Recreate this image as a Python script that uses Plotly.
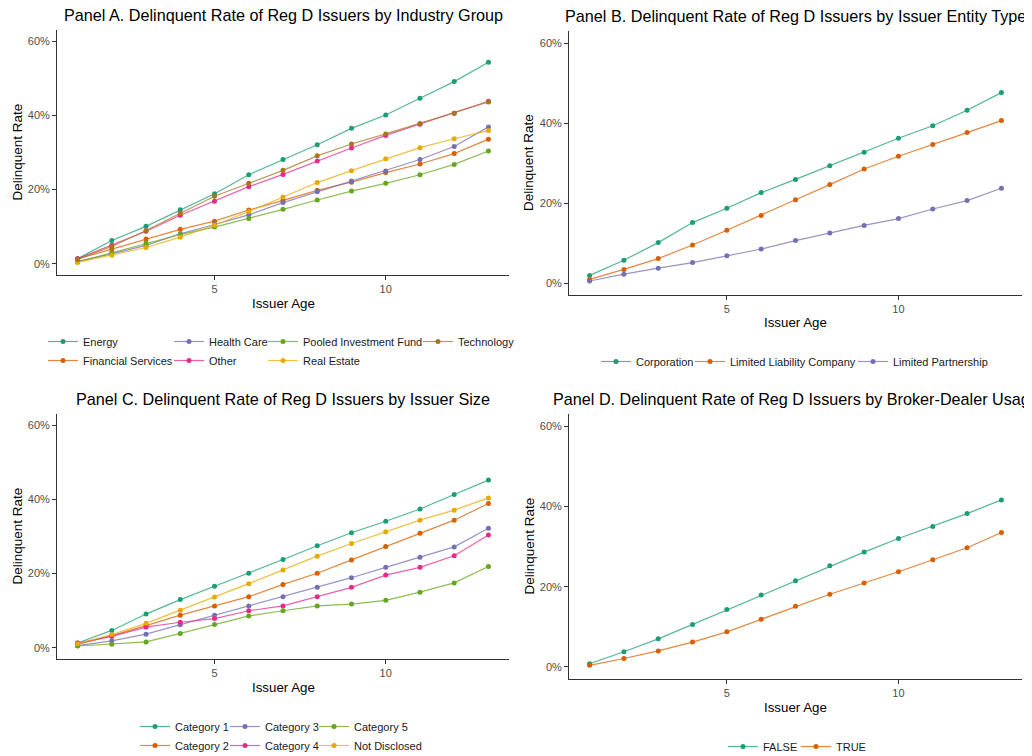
import plotly.graph_objects as go

# The page body has an 8px margin, so the figure is laid out in page pixels minus 8.
OFF = 8
W, H = 1024, 762
ages = list(range(1, 14))

# Panel A: industry group
industry_names = ["Energy", "Financial Services", "Health Care", "Other",
                  "Pooled Investment Fund", "Real Estate", "Technology"]
energy = [1.4, 6.3, 10.1, 14.6, 18.9, 24.0, 28.1, 32.1, 36.5, 40.1, 44.6, 49.1, 54.3]
financial = [1.3, 4.0, 6.7, 9.3, 11.5, 14.5, 17.1, 19.8, 22.0, 24.6, 26.9, 29.7, 33.6]
health = [0.7, 2.7, 5.0, 8.1, 10.6, 13.2, 16.5, 19.4, 22.3, 25.0, 28.1, 31.6, 36.9]
other = [1.4, 5.0, 8.8, 13.1, 16.9, 20.8, 24.1, 27.7, 31.2, 34.6, 37.6, 40.6, 43.8]
pooled = [0.5, 3.0, 5.6, 7.9, 9.9, 12.2, 14.7, 17.2, 19.6, 21.7, 24.0, 26.8, 30.4]
realestate = [0.4, 2.3, 4.4, 7.2, 10.4, 14.1, 18.0, 21.9, 25.1, 28.3, 31.3, 33.7, 35.9]
technology = [1.2, 4.7, 9.0, 13.7, 18.2, 21.7, 25.2, 29.1, 32.3, 35.0, 37.8, 40.6, 43.6]
industry_values = [energy, financial, health, other, pooled, realestate, technology]

# Panel B: entity type
entity_names = ["Corporation", "Limited Liability Company", "Limited Partnership"]
corporation = [1.9, 5.7, 10.1, 15.1, 18.7, 22.6, 25.9, 29.3, 32.7, 36.2, 39.3, 43.2, 47.6]
llc = [0.9, 3.4, 6.1, 9.5, 13.2, 16.9, 20.8, 24.6, 28.5, 31.7, 34.6, 37.6, 40.6]
lp = [0.5, 2.2, 3.7, 5.1, 6.8, 8.5, 10.6, 12.5, 14.4, 16.1, 18.5, 20.6, 23.7]
entity_values = [corporation, llc, lp]

# Panel C: issuer size
size_names = ["Category 1", "Category 2", "Category 3", "Category 4", "Category 5", "Not Disclosed"]
cat1 = [1.3, 4.7, 9.1, 13.0, 16.6, 20.1, 23.8, 27.5, 31.0, 34.1, 37.4, 41.3, 45.2]
cat2 = [0.9, 3.3, 6.0, 8.8, 11.3, 13.8, 17.1, 20.1, 23.7, 27.3, 30.9, 34.4, 38.9]
cat3 = [0.6, 1.9, 3.7, 6.2, 8.8, 11.3, 13.8, 16.3, 18.9, 21.7, 24.4, 27.2, 32.2]
cat4 = [1.3, 3.1, 5.6, 6.9, 7.9, 10.0, 11.3, 13.8, 16.3, 19.6, 21.7, 24.8, 30.4]
cat5 = [0.5, 1.0, 1.6, 3.9, 6.3, 8.6, 10.0, 11.3, 11.8, 12.8, 15.0, 17.5, 21.9]
notdisc = [1.1, 3.6, 6.6, 10.1, 13.7, 17.3, 21.0, 24.7, 28.1, 31.3, 34.4, 37.1, 40.4]
size_values = [cat1, cat2, cat3, cat4, cat5, notdisc]

# Panel D: broker-dealer usage
bd_names = ["FALSE", "TRUE"]
bd_false = [0.8, 3.8, 7.0, 10.6, 14.3, 17.9, 21.5, 25.2, 28.6, 32.0, 35.0, 38.2, 41.6]
bd_true = [0.4, 2.1, 4.0, 6.2, 8.75, 11.9, 15.1, 18.1, 20.9, 23.7, 26.7, 29.7, 33.5]
bd_values = [bd_false, bd_true]

titles = ["Panel A. Delinquent Rate of Reg D Issuers by Industry Group",
          "Panel B. Delinquent Rate of Reg D Issuers by Issuer Entity Type",
          "Panel C. Delinquent Rate of Reg D Issuers by Issuer Size",
          "Panel D. Delinquent Rate of Reg D Issuers by Broker-Dealer Usage"]

dark2 = ["#1B9E77", "#D95F02", "#7570B3", "#E7298A", "#66A61E", "#E6AB02", "#A6761D"]
FONT = "Liberation Sans, Arial, sans-serif"


def px(x):
    return (x - OFF) / W


def py(y):
    return 1 - (y - OFF) / H


def rgba(hexc, a):
    h = hexc.lstrip("#")
    return "rgba(%d,%d,%d,%.2f)" % (int(h[0:2], 16), int(h[2:4], 16), int(h[4:6], 16), a)


# plot areas in page pixels: (left, right, top, bottom)
panels = [(57, 509, 30, 275), (569, 1022, 31, 295), (57, 509, 414, 659), (569, 1022, 414, 679)]

fig = go.Figure()
layout = dict(width=W, height=H, margin=dict(l=0, r=0, t=0, b=0),
              paper_bgcolor="white", plot_bgcolor="white",
              font=dict(family=FONT, color="#1a1a1a"), annotations=[])

for i, (l, r, t, b) in enumerate(panels):
    n = "" if i == 0 else str(i + 1)
    common = dict(showline=True, linecolor="#333333", linewidth=1, ticks="outside",
                  ticklen=4, tickcolor="#333333", tickwidth=1, showgrid=False, zeroline=False,
                  tickfont=dict(size=11, color="#4d4d4d", family=FONT), fixedrange=True)
    layout["xaxis" + n] = dict(domain=[px(l), px(r)], anchor="y" + n, range=[0.4, 13.6],
                               tickvals=[5, 10], **common)
    layout["yaxis" + n] = dict(domain=[py(b), py(t)], anchor="x" + n, range=[-3, 63],
                               tickvals=[0, 20, 40, 60], ticktext=["0%", "20%", "40%", "60%"], **common)
    cx = px((l + r) / 2)
    layout["annotations"].append(dict(text=titles[i], x=cx, y=py(t - 15), xref="paper", yref="paper",
                                      xanchor="center", yanchor="middle", showarrow=False,
                                      font=dict(size=16.2, color="#000000", family=FONT)))
    layout["annotations"].append(dict(text="Issuer Age", x=cx, y=py(b + 28), xref="paper", yref="paper",
                                      xanchor="center", yanchor="middle", showarrow=False,
                                      font=dict(size=13.3, color="#000000", family=FONT)))
    layout["annotations"].append(dict(text="Delinquent Rate", x=px(l - 40), y=py((t + b) / 2),
                                      xref="paper", yref="paper", textangle=-90,
                                      xanchor="center", yanchor="middle", showarrow=False,
                                      font=dict(size=13.5, color="#000000", family=FONT)))

leg_count = [0]


def new_legend(x_text, y_row):
    """Legend whose item text starts at page x_text and whose first row is centred at page y_row."""
    leg_count[0] += 1
    name = "legend" if leg_count[0] == 1 else "legend%d" % leg_count[0]
    layout[name] = dict(x=px(x_text - 40), y=py(y_row - 15), xanchor="left", yanchor="top",
                        orientation="v", bgcolor="rgba(0,0,0,0)", borderwidth=0,
                        font=dict(size=11, color="#1a1a1a", family=FONT), tracegroupgap=0,
                        itemclick=False, itemdoubleclick=False)
    return name


def add_panel(idx, names, values, legend_of):
    n = "" if idx == 0 else str(idx + 1)
    for k, (nm, vals) in enumerate(zip(names, values)):
        c = dark2[k]
        fig.add_trace(go.Scatter(x=ages, y=vals, name=nm, mode="lines+markers",
                                 line=dict(color=rgba(c, 0.75), width=1.2),
                                 marker=dict(color=c, size=5),
                                 xaxis="x" + n, yaxis="y" + n, legend=legend_of[k],
                                 hovertemplate=nm + ": %{y:.1f}%<extra></extra>"))


# Panel A: 4 columns x 2 rows
colsA = [new_legend(83, 342), new_legend(209, 342), new_legend(303, 342), new_legend(458, 342)]
add_panel(0, industry_names, industry_values,
          [colsA[0], colsA[0], colsA[1], colsA[1], colsA[2], colsA[2], colsA[3]])
# Panel B: single row
legB = [new_legend(636, 362), new_legend(730, 362), new_legend(893, 362)]
add_panel(1, entity_names, entity_values, legB)
# Panel C: 3 columns x 2 rows
colsC = [new_legend(175, 727), new_legend(265, 727), new_legend(354, 727)]
add_panel(2, size_names, size_values,
          [colsC[0], colsC[0], colsC[1], colsC[1], colsC[2], colsC[2]])
# Panel D: single row
legD = [new_legend(763, 747), new_legend(836, 747)]
add_panel(3, bd_names, bd_values, legD)

fig.update_layout(**layout)
fig.write_html("out.html")
